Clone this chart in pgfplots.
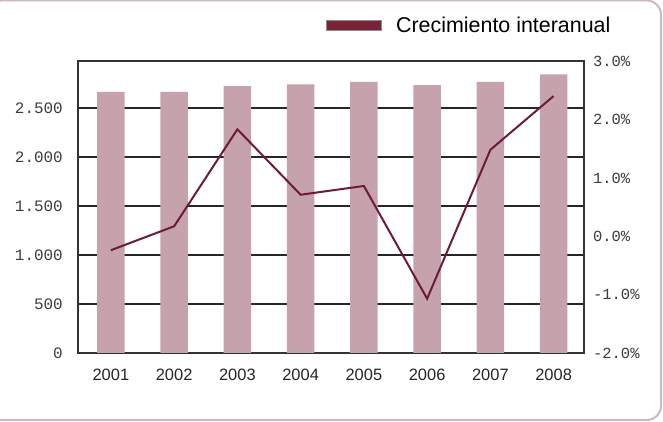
\documentclass[border=0pt]{standalone}
\usepackage{pgfplots}
\pgfplotsset{compat=1.18}
\usepackage{fontspec}
\setmainfont{Liberation Sans}
\newfontfamily\monofont{Liberation Mono}

\definecolor{barcol}{RGB}{198,162,172}
\definecolor{linecol}{RGB}{108,28,54}
\definecolor{legcol}{RGB}{122,34,56}
\definecolor{framecol}{RGB}{205,185,192}
\definecolor{ticktext}{RGB}{60,60,60}

% bars: left axis, line: right axis (percent)
\pgfplotstableread{
idx value growth
0 2665 -0.24
1 2665 0.17
2 2723 1.83
3 2741 0.71
4 2767 0.86
5 2734 -1.07
6 2767 1.48
7 2843 2.40
}\datatable

\begin{document}
\begin{tikzpicture}
\useasboundingbox (0,0) rectangle (663bp,422bp);
\fill[white] (0,0) rectangle (663bp,422bp);
\draw[framecol,line width=2bp,rounded corners=14bp] (-12bp,2bp) rectangle (661bp,421.5bp);

\begin{axis}[
    at={(78bp,69bp)}, anchor=south west,
    scale only axis, width=506bp, height=292bp,
    xmin=-0.52, xmax=7.48,
    ymin=0, ymax=2980,
    xtick={0,...,7},
    xticklabels={2001,2002,2003,2004,2005,2006,2007,2008},
    ytick={0,500,1000,1500,2000,2500},
    yticklabels={0,500,1.000,1.500,2.000,2.500},
    ymajorgrids,
    major grid style={black!85,line width=1.1bp},
    axis line style={black!80,line width=1.4bp},
    tick style={draw=none},
    xticklabel style={font=\fontsize{16.5}{18}\selectfont, text=black!85, anchor=base, inner sep=0pt, yshift=-28bp},
    yticklabel style={font=\monofont\fontsize{16}{18}\selectfont, text=ticktext, anchor=base east, inner sep=0pt, xshift=-15bp, yshift=-5.5bp},
]
\addplot[ybar, bar width=27.5bp, fill=barcol, draw=none] table[x=idx, y=value] {\datatable};
\end{axis}

\begin{axis}[
    at={(78bp,69bp)}, anchor=south west,
    scale only axis, width=506bp, height=292bp,
    xmin=-0.52, xmax=7.48,
    ymin=-2, ymax=3,
    axis x line=none,
    axis y line*=right,
    axis line style={draw=none},
    tick style={draw=none},
    ytick={-2,-1,0,1,2,3},
    yticklabels={-2.0\%,-1.0\%,0.0\%,1.0\%,2.0\%,3.0\%},
    yticklabel style={font=\monofont\fontsize{15.5}{18}\selectfont, text=ticktext, anchor=base west, inner sep=0pt, xshift=9bp, yshift=-5.3bp},
    legend style={at={(axis description cs:0.49,1.123)}, anchor=west,
        draw=none, fill=none, inner sep=0pt,
        font=\fontsize{21.5}{24}\selectfont,
        nodes={inner sep=0pt},
        /tikz/every odd column/.append style={column sep=14bp}},
    legend image code/.code={
        \draw[fill=legcol, draw=black!45, line width=1bp] (0bp,-5bp) rectangle (55bp,5bp);
    },
]
\addplot[linecol, line width=2bp] table[x=idx, y=growth] {\datatable};
\addlegendentry{Crecimiento interanual}
\end{axis}
\end{tikzpicture}
\end{document}
